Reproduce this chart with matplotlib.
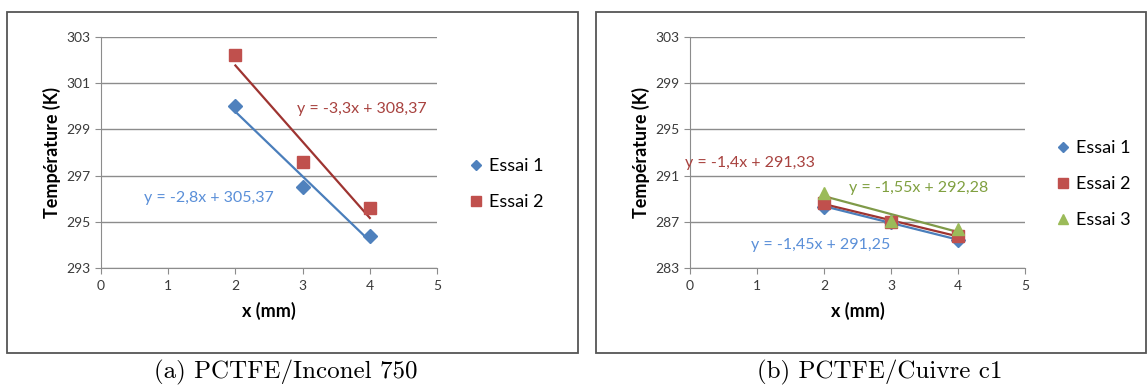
import numpy as np
import matplotlib
matplotlib.use("Agg")
import matplotlib.pyplot as plt
from matplotlib.patches import Rectangle

plt.rcParams['font.family'] = ['Lato', 'DejaVu Sans']

# data
x_mm = [2, 3, 4]
inconel_essai1 = [300.0, 296.5, 294.4]
inconel_essai2 = [302.2, 297.6, 295.6]
cuivre_essai1 = [288.3, 287.0, 285.4]
cuivre_essai2 = [288.6, 287.0, 285.8]
cuivre_essai3 = [289.5, 287.1, 286.4]
inconel_eqs = ["y = -2,8x + 305,37", "y = -3,3x + 308,37"]
cuivre_eqs = ["y = -1,45x + 291,25", "y = -1,4x + 291,33", "y = -1,55x + 292,28"]
captions = ["(a) PCTFE/Inconel 750", "(b) PCTFE/Cuivre c1"]

blue, red, green = '#4F81BD', '#C0504D', '#9BBB59'
line_cols = ['#4A7EBB', '#9E3431', '#7F9A48']
text_cols = ['#5A8FD8', '#A8423F', '#80A040']
markers = ['D', 's', '^']
msizes = [7, 8.5, 9]

fig = plt.figure(figsize=(11.47, 3.86), dpi=100)

# outer frames
for x0, x1 in [(7, 578), (596, 1146)]:
    fig.patches.append(Rectangle((x0 / 1147, 1 - 353 / 386), (x1 - x0) / 1147, 341 / 386,
                                 transform=fig.transFigure, fill=False,
                                 edgecolor='#555555', linewidth=1.3))

def setup(ax, yticks):
    ax.set_xlim(0, 5)
    ax.set_ylim(yticks[0], yticks[-1])
    ax.set_xticks(range(6))
    ax.set_yticks(yticks)
    ax.grid(axis='y', color='#8C8C8C', linewidth=1)
    ax.set_axisbelow(True)
    for s in ['top', 'right']:
        ax.spines[s].set_visible(False)
    for s in ['left', 'bottom']:
        ax.spines[s].set_color('#8C8C8C')
    ax.tick_params(colors='#8C8C8C', labelcolor='#3A3A3A', labelsize=10, length=4)
    ax.tick_params(axis='x', pad=5)
    ax.set_xlabel('x (mm)', fontsize=13, fontweight='bold', labelpad=7)
    ax.set_ylabel('Température (K)', fontsize=13, fontweight='bold', labelpad=4)

def draw(ax, series, eqs, eq_pos):
    handles = []
    for i, ys in enumerate(series):
        k, b = np.polyfit(x_mm, ys, 1)
        xs = np.array([x_mm[0], x_mm[-1]])
        ax.plot(xs, k * xs + b, color=line_cols[i], linewidth=1.6, zorder=2)
        h, = ax.plot(x_mm, ys, linestyle='none', marker=markers[i],
                     markersize=msizes[i], color=[blue, red, green][i],
                     label='Essai %d' % (i + 1), zorder=3)
        handles.append(h)
        ax.text(eq_pos[i][0], eq_pos[i][1], eqs[i], color=text_cols[i],
                fontsize=11.5, va='center', ha='left')
    return handles

def legend(ax, handles, xpix, ypix):
    leg = ax.legend(handles=handles, loc='center left',
                    bbox_to_anchor=(xpix / 1147, 1 - ypix / 386),
                    bbox_transform=fig.transFigure, frameon=False, fontsize=13,
                    handletextpad=0.2, handlelength=1.0, labelspacing=1.1,
                    markerscale=0.8)
    return leg

ax1 = fig.add_axes([101 / 1147, 1 - 268 / 386, 336 / 1147, 231 / 386])
setup(ax1, list(range(293, 304, 2)))
h1 = draw(ax1, [inconel_essai1, inconel_essai2], inconel_eqs,
          [(0.64, 296.05), (2.92, 299.9)])
legend(ax1, h1, 451, 184)

ax2 = fig.add_axes([690 / 1147, 1 - 268 / 386, 335 / 1147, 231 / 386])
setup(ax2, list(range(283, 304, 4)))
h2 = draw(ax2, [cuivre_essai1, cuivre_essai2, cuivre_essai3], cuivre_eqs,
          [(0.91, 285.0), (-0.07, 292.1), (2.37, 289.9)])
legend(ax2, h2, 1038, 184)

fig.text(286 / 1147, 1 - 372 / 386, captions[0], family='cmr10', fontsize=18,
         ha='center', va='center')
fig.text(880 / 1147, 1 - 372 / 386, captions[1], family='cmr10', fontsize=18,
         ha='center', va='center')

fig.savefig('out.png', dpi=100)
